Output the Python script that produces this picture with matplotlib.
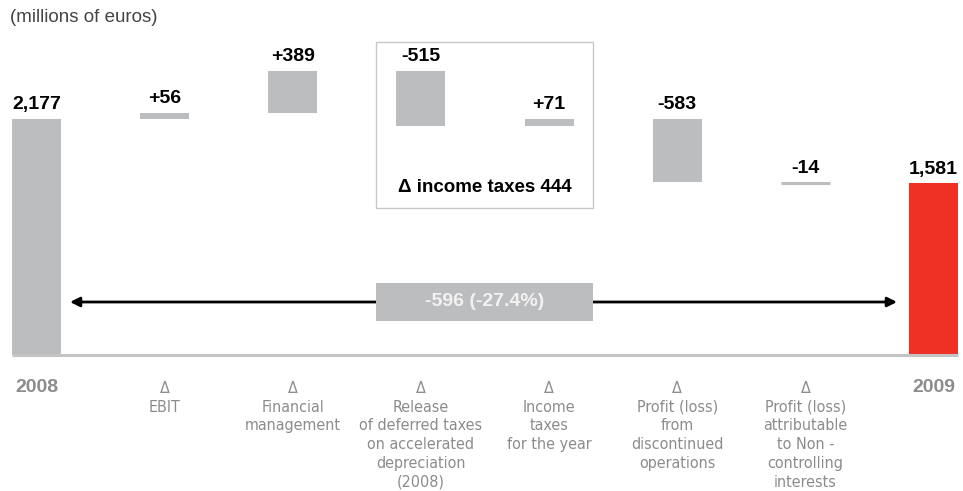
import matplotlib.pyplot as plt
from matplotlib.patches import Rectangle

# Net result bridge 2008 -> 2009 (millions of euros)
start_label = "2008"
end_label = "2009"
start_value = 2177
deltas = [56, 389, -515, 71, -583, -14]
delta_labels = [
    "EBIT",
    "Financial\nmanagement",
    "Release\nof deferred taxes\non accelerated\ndepreciation\n(2008)",
    "Income\ntaxes\nfor the year",
    "Profit (loss)\nfrom\ndiscontinued\noperations",
    "Profit (loss)\nattributable\nto Non -\ncontrolling\ninterests",
]
end_value = start_value + sum(deltas)

GREY = "#bcbdbf"
RED = "#ee3124"
LABEL_GREY = "#8c8c8c"
bold = ["Liberation Sans", "DejaVu Sans"]

W, H = 963, 491
fig = plt.figure(figsize=(W / 100, H / 100), dpi=100)

# axes: bottom edge at the baseline (y=355 px), full width
base_px = 355
ax = fig.add_axes([0, (H - base_px) / H, 1, base_px / H])
px_per_unit = 0.1085
step = 128.14
x0_px = 36.5
ax.set_xlim(-x0_px / step, (W - x0_px) / step)
ax.set_ylim(0, base_px / px_per_unit)
ax.axis("off")

bw = 49 / step
val_fs = 14
gap = 50

def fy(px):
    # figure fraction from a pixel row measured from the top
    return 1 - px / H

# start bar
ax.bar(0, start_value, width=bw, color=GREY, linewidth=0)
ax.text(0, start_value + gap, f"{start_value:,}", ha="center", va="bottom",
        fontsize=val_fs, fontweight="bold", family=bold)

level = start_value
for i, d in enumerate(deltas, start=1):
    bottom = min(level, level + d)
    if abs(d) < 18:
        # very small steps are drawn as a thin line
        ax.plot([i - bw / 2, i + bw / 2], [level + d / 2] * 2, color=GREY, lw=2.2,
                solid_capstyle="butt")
    else:
        ax.bar(i, abs(d), bottom=bottom, width=bw, color=GREY, linewidth=0)
    top = max(level, level + d)
    ax.text(i, top + gap, f"{d:+d}", ha="center", va="bottom",
            fontsize=val_fs, fontweight="bold", family=bold)
    level += d

n = len(deltas) + 1
ax.bar(n, end_value, width=bw, color=RED, linewidth=0)
ax.text(n, end_value + gap, f"{end_value:,}", ha="center", va="bottom",
        fontsize=val_fs, fontweight="bold", family=bold)

# baseline
ax.plot([-0.19, n + 0.19], [0, 0], color="#c4c4c4", lw=2.2,
        solid_capstyle="butt", clip_on=False)

# income taxes box around the two tax bars
box_l = (376 - x0_px) / step
box_r = (593 - x0_px) / step
box_top = (base_px - 42) / px_per_unit
box_bot = (base_px - 208) / px_per_unit
ax.add_patch(Rectangle((box_l, box_bot), box_r - box_l, box_top - box_bot,
                       fill=False, edgecolor="#c8c8c8", lw=1.0))
tax_change = abs(deltas[2] + deltas[3])
ax.text((box_l + box_r) / 2, (base_px - 187) / px_per_unit,
        f"\u0394 income taxes {tax_change}", ha="center", va="center",
        fontsize=13.5, fontweight="bold", family=bold)

# overall change arrow
arrow_y = (base_px - 302) / px_per_unit
ax.annotate("", xy=((70 - x0_px) / step, arrow_y),
            xytext=((897 - x0_px) / step, arrow_y),
            arrowprops=dict(arrowstyle="<|-|>", color="black", lw=2,
                            mutation_scale=14, shrinkA=0, shrinkB=0))
total = end_value - start_value
pct = total / start_value * 100
lab_b = (base_px - 321) / px_per_unit
lab_t = (base_px - 283) / px_per_unit
ax.add_patch(Rectangle((box_l, lab_b), box_r - box_l, lab_t - lab_b,
                       facecolor=GREY, edgecolor="none", zorder=3))
ax.text((box_l + box_r) / 2, arrow_y, f"{total} ({pct:.1f}%)",
        ha="center", va="center", fontsize=14, fontweight="bold",
        color="#f2f2f2", family=bold, zorder=4)

# category labels below the baseline
def xf(i):
    return (x0_px + i * step) / W

fig.text(xf(0), fy(388), start_label, ha="center", va="center",
         fontsize=14, fontweight="bold", color=LABEL_GREY, family=bold)
fig.text(xf(n), fy(388), end_label, ha="center", va="center",
         fontsize=14, fontweight="bold", color=LABEL_GREY, family=bold)
for i, lab in enumerate(delta_labels, start=1):
    fig.text(xf(i), fy(381), "\u0394\n" + lab, ha="center", va="top",
             fontsize=11.5, color=LABEL_GREY, family="DejaVu Sans",
             stretch="condensed", linespacing=1.31)

fig.text(10 / W, fy(18), "(millions of euros)", ha="left", va="center",
         fontsize=13.5, color="#444444", family=bold)

fig.savefig("out.png", dpi=100)
